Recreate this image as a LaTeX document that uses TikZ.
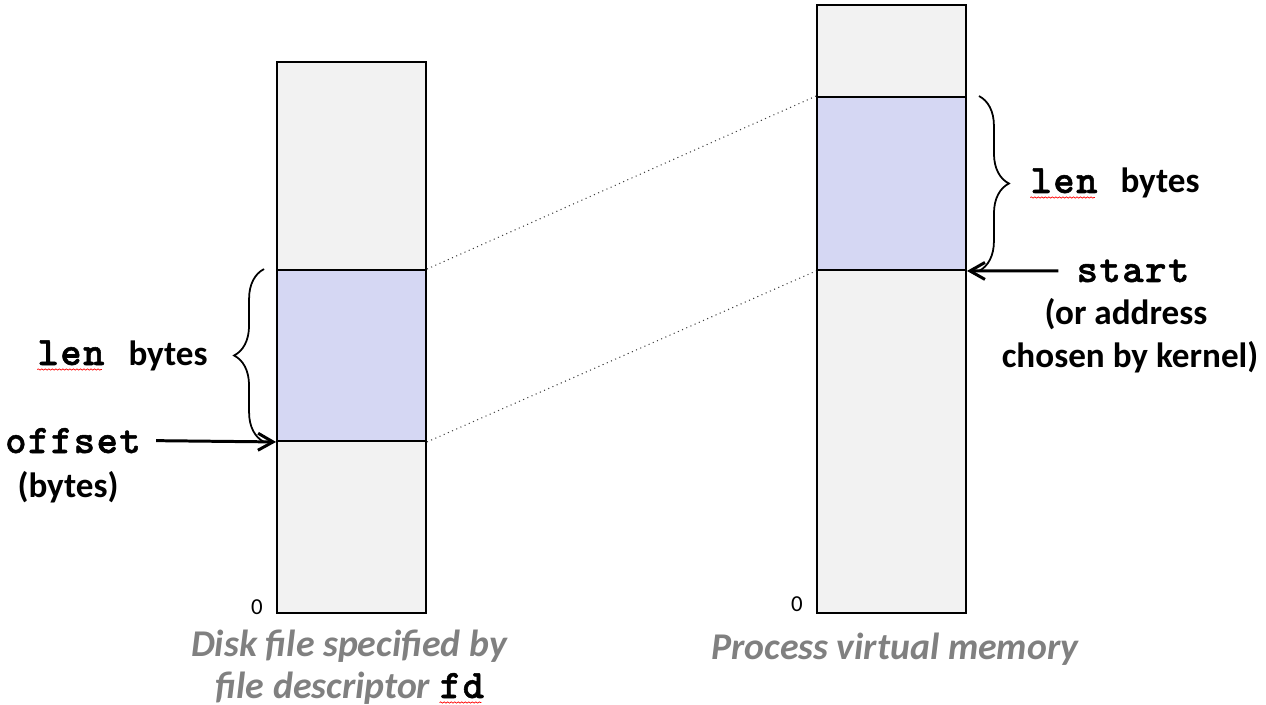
\documentclass[tikz,border=0pt]{standalone}
\usepackage{fontspec}
\setmainfont{Carlito}
\newfontfamily\codefont{lmmonolt10-bold.otf}[FakeBold=1.3,LetterSpace=4]
\usetikzlibrary{positioning,arrows.meta,decorations.pathreplacing,decorations.pathmorphing}
\definecolor{filegray}{HTML}{F2F2F2}
\definecolor{mapblue}{HTML}{D5D7F3}
\definecolor{captiongray}{HTML}{808080}
\begin{document}
\begin{tikzpicture}[x=0.02cm,y=-0.02cm,
	memcol/.style={draw,line width=1.1pt,fill=filegray,minimum width=2.98cm,inner sep=0pt},
	mapband/.style={draw,line width=1.1pt,fill=mapblue,minimum width=2.98cm,inner sep=0pt},
	maplink/.style={dotted,line width=0.6pt,black!75},
	codetext/.style={font=\fontsize{23}{26}\selectfont\codefont,inner sep=0pt,anchor=base},
	sidetext/.style={font=\fontsize{20}{24}\selectfont\bfseries,inner sep=0pt,anchor=base},
	zerotext/.style={font=\fontsize{13}{15}\selectfont,inner sep=0pt,anchor=base},
	captext/.style={font=\fontsize{21.5}{26}\selectfont\bfseries\itshape,text=captiongray,inner sep=0pt,anchor=base},
	bracemark/.style={decorate,decoration={brace,amplitude=0.6cm},line width=1pt},
	pointer/.style={-{Straight Barb[length=0.3cm,width=0.34cm]},line width=1.7pt},
	spellmark/.style={red,decorate,decoration={snake,amplitude=0.35pt,segment length=2pt},line width=0.4pt}]
	
	\useasboundingbox (0,0) rectangle (1266,705);
	
	\begin{scope}
		\node[memcol,minimum height=11.02cm] (disk) at (351.5,337.5) {};
		\node[mapband,minimum height=3.42cm] (diskmap) at (351.5,355.5) {};
		\node[zerotext] (diskzero) at (257,614) {0};
		
		\draw[bracemark] ([xshift=-0.24cm]diskmap.south west) -- ([xshift=-0.24cm]diskmap.north west);
		\node[codetext] (lenL) at (71,365) {len};
		\node[sidetext] (bytesL) at (168,365) {bytes};
		\draw[spellmark] ([yshift=-0.09cm]lenL.base west) -- ([yshift=-0.09cm,xshift=-0.06cm]lenL.base east);
		
		\node[codetext] (offsetT) at (73,453) {offset};
		\node[sidetext] (offsetU) at (68,497) {(bytes)};
		\draw[pointer] ([xshift=0.3cm]offsetT.east) -- (diskmap.south west);
		
		\node[captext] (diskcapA) at (349,656) {Disk file specified by};
		\node[captext] (diskcapB) at (323,698) {file descriptor};
		\node[codetext,base right=0.18cm of diskcapB,text=black] (fdT) {fd};
		\draw[spellmark] ([yshift=-0.09cm]fdT.base west) -- ([yshift=-0.09cm,xshift=-0.06cm]fdT.base east);
	\end{scope}
	
	\begin{scope}
		\node[memcol,minimum height=12.16cm] (vm) at (891.5,309) {};
		\node[mapband,minimum height=3.46cm] (vmmap) at (891.5,183.5) {};
		\node[zerotext] (vmzero) at (797,611) {0};
		
		\draw[bracemark] ([xshift=0.24cm]vmmap.north east) -- ([xshift=0.24cm]vmmap.south east);
		\node[codetext] (lenR) at (1064,193) {len};
		\node[sidetext] (bytesR) at (1160,193) {bytes};
		\draw[spellmark] ([yshift=-0.09cm]lenR.base west) -- ([yshift=-0.09cm,xshift=-0.06cm]lenR.base east);
		
		\node[codetext] (startT) at (1133,282) {start};
		\node[sidetext] (startA) at (1126,325) {(or address};
		\node[sidetext] (startB) at (1130,367) {chosen by kernel)};
		\draw[pointer] ([xshift=-0.36cm]startT.west) -- (vmmap.south east);
		
		\node[captext] (vmcap) at (895,659) {Process virtual memory};
	\end{scope}
	
	\draw[maplink] (diskmap.north east) -- (vmmap.north west);
	\draw[maplink] (diskmap.south east) -- (vmmap.south west);

\end{tikzpicture}
\end{document}
